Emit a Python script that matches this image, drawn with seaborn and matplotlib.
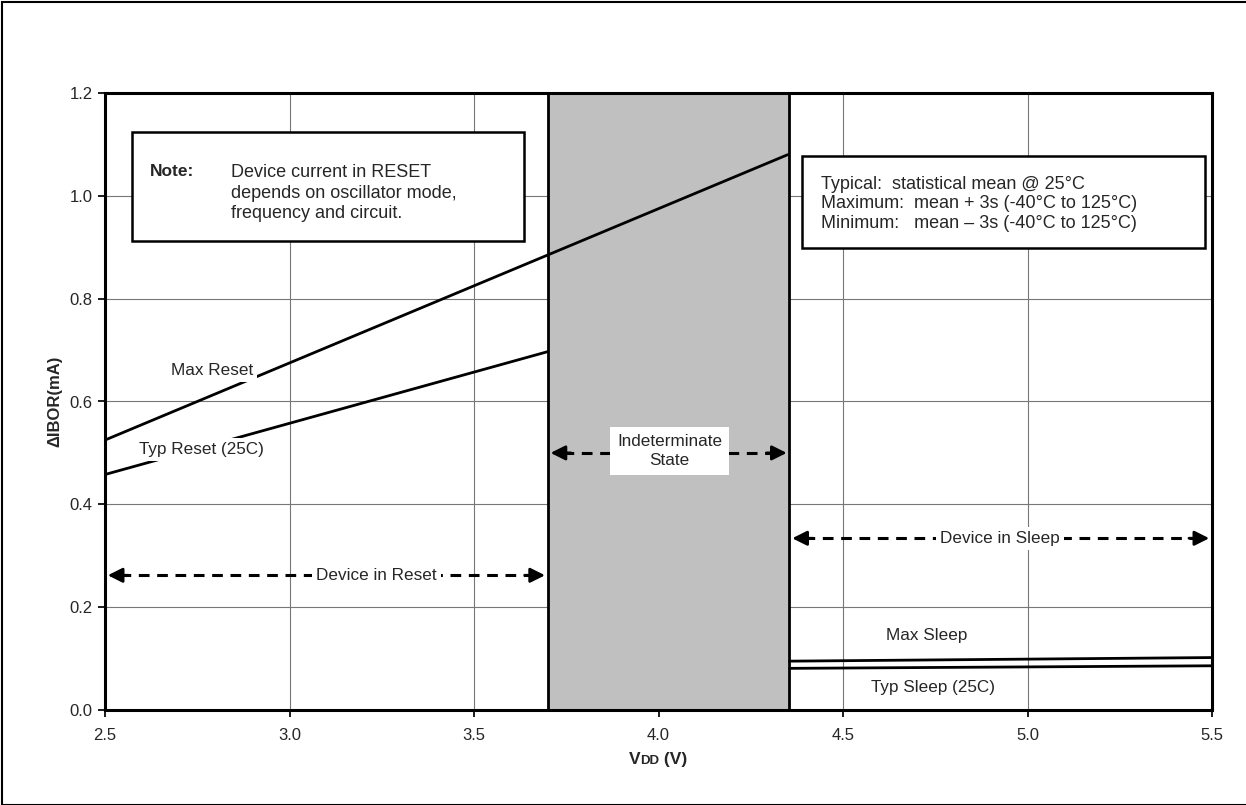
import numpy as np
import pandas as pd
import seaborn as sns
import matplotlib.pyplot as plt
from matplotlib.patches import Rectangle

# values
vdd_reset = [2.5, 4.35]
max_reset = [0.525, 1.08]
vdd_typ_reset = [2.5, 3.7]
typ_reset = [0.458, 0.697]
vdd_sleep = [4.355, 5.5]
max_sleep = [0.095, 0.102]
typ_sleep = [0.081, 0.086]

band_lo, band_hi = 3.7, 4.355
arrow_reset_y = 0.262
arrow_indet_y = 0.50
arrow_sleep_y = 0.334

def build_frame():
    rows = []
    for x, y in zip(vdd_reset, max_reset):
        rows.append(("Max Reset", x, y))
    for x, y in zip(vdd_typ_reset, typ_reset):
        rows.append(("Typ Reset (25C)", x, y))
    for x, y in zip(vdd_sleep, max_sleep):
        rows.append(("Max Sleep", x, y))
    for x, y in zip(vdd_sleep, typ_sleep):
        rows.append(("Typ Sleep (25C)", x, y))
    return pd.DataFrame(rows, columns=["curve", "vdd", "ibor"])

def dashed_arrow(ax, x0, x1, y):
    ax.plot([x0 + 0.04, x1 - 0.04], [y, y], color="black", lw=2.2, ls=(0, (3.5, 2.5)), zorder=4)
    ax.annotate("", xy=(x0, y), xytext=(x0 + 0.07, y),
                arrowprops=dict(arrowstyle="-|>", color="black", lw=2, mutation_scale=22), zorder=5)
    ax.annotate("", xy=(x1, y), xytext=(x1 - 0.07, y),
                arrowprops=dict(arrowstyle="-|>", color="black", lw=2, mutation_scale=22), zorder=5)

sns.set_theme(style="white")
plt.rcParams["font.family"] = ["Liberation Sans", "DejaVu Sans"]

df = build_frame()

fig = plt.figure(figsize=(12.46, 8.05), dpi=100)
ax = fig.add_axes([105 / 1246, 1 - 710 / 805, 1107 / 1246, 617 / 805])

ax.axvspan(band_lo, band_hi, color="#c0c0c0", zorder=1)
ax.axvline(band_lo, color="black", lw=2, zorder=3)
ax.axvline(band_hi, color="black", lw=2, zorder=3)

sns.lineplot(data=df, x="vdd", y="ibor", hue="curve", palette=["black"] * 4,
             lw=2, legend=False, ax=ax, zorder=3)

ax.set_xlim(2.5, 5.5)
ax.set_ylim(0, 1.2)
ax.set_xticks(np.arange(2.5, 5.51, 0.5))
ax.set_yticks(np.arange(0, 1.21, 0.2))
ax.set_xticklabels([f"{v:.1f}" for v in np.arange(2.5, 5.51, 0.5)])
ax.set_yticklabels([f"{v:.1f}" for v in np.arange(0, 1.21, 0.2)])
ax.grid(True, color="#777777", lw=0.8, zorder=0)
ax.set_axisbelow(True)
for s in ax.spines.values():
    s.set_color("black")
    s.set_linewidth(2.2)
ax.tick_params(axis="both", labelsize=12, length=5, color="black", direction="out",
               bottom=True, left=True)
ax.tick_params(axis="x", pad=8)
ax.tick_params(axis="y", pad=4)

ax.set_xlabel("")
ax.set_ylabel("ΔIBOR(mA)", fontsize=12, fontweight="bold", labelpad=5)

# x label with small-caps "DD"
fig.canvas.draw()
rend = fig.canvas.get_renderer()
parts = [("V", 12.5), ("DD", 9.5), (" (V)", 12.5)]
xl_y = 1 - 764 / 805
texts = []
for s, size in parts:
    texts.append(fig.text(0, xl_y, s, fontsize=size, fontweight="bold", va="baseline"))
widths = [t.get_window_extent(rend).width / 1246 for t in texts]
x = 658 / 1246 - sum(widths) / 2
for t, w in zip(texts, widths):
    t.set_x(x)
    x += w

# arrows and region labels
bbox_w = dict(facecolor="white", edgecolor="none", pad=3)
dashed_arrow(ax, 2.5, 3.7, arrow_reset_y)
ax.text(3.235, arrow_reset_y, "Device in Reset", ha="center", va="center", fontsize=12.3, bbox=bbox_w, zorder=6)
dashed_arrow(ax, 4.355, 5.5, arrow_sleep_y)
ax.text(4.925, arrow_sleep_y, "Device in Sleep", ha="center", va="center", fontsize=12.3, bbox=bbox_w, zorder=6)
dashed_arrow(ax, 3.7, 4.355, arrow_indet_y)
ax.text(4.03, 0.503, "Indeterminate\nState", ha="center", va="center", fontsize=12.3,
        linespacing=1.35, bbox=dict(facecolor="white", edgecolor="none", pad=5), zorder=6)

# curve labels
ax.text(2.79, 0.660, "Max Reset", ha="center", va="center", fontsize=12.3, bbox=bbox_w, zorder=6)
ax.text(2.76, 0.506, "Typ Reset (25C)", ha="center", va="center", fontsize=12.3, bbox=bbox_w, zorder=6)
ax.text(4.728, 0.144, "Max Sleep", ha="center", va="center", fontsize=12.3, zorder=6)
ax.text(4.745, 0.044, "Typ Sleep (25C)", ha="center", va="center", fontsize=12.3, zorder=6)

# note box
ax.add_patch(Rectangle((132 / 1246, 1 - 241 / 805), 392 / 1246, 109 / 805, transform=fig.transFigure,
                       facecolor="white", edgecolor="black", lw=1.8, zorder=7))
fig.text(150 / 1246, 1 - 171 / 805, "Note:", fontsize=12.5, fontweight="bold", va="center", zorder=8)
fig.text(231 / 1246, 1 - 193 / 805, "Device current in RESET\ndepends on oscillator mode,\nfrequency and circuit.",
         fontsize=13, va="center", linespacing=1.27, zorder=8)

# statistics box
ax.add_patch(Rectangle((802 / 1246, 1 - 248 / 805), 403 / 1246, 92 / 805, transform=fig.transFigure,
                       facecolor="white", edgecolor="black", lw=1.8, zorder=7))
fig.text(821 / 1246, 1 - 204 / 805,
         "Typical:  statistical mean @ 25°C\nMaximum:  mean + 3s (-40°C to 125°C)\nMinimum:   mean – 3s (-40°C to 125°C)",
         fontsize=13, va="center", linespacing=1.2, zorder=8)

# outer frame
fig.patches.append(Rectangle((0.0015, 0.0), 1.2, 0.9975, transform=fig.transFigure,
                             fill=False, edgecolor="black", lw=1.5))

fig.savefig("out.png", dpi=100)
